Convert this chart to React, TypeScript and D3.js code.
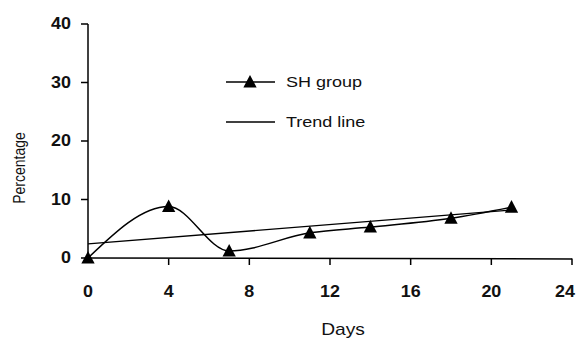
import React from "react";
import * as d3 from "d3";

const days = [0, 4, 7, 11, 14, 18, 21];
const shGroup = [0, 8.8, 1.2, 4.3, 5.3, 6.8, 8.7];
const trendDays = [0, 21];
const trendValues = [2.4, 8.2];
const xTicks = [0, 4, 8, 12, 16, 20, 24];
const yTicks = [0, 10, 20, 30, 40];

const W = 579, H = 339;
const x = d3.scaleLinear().domain([0, 24]).range([88, 572]);
const y = d3.scaleLinear().domain([0, 40]).range([258, 24]);

const tri = (cx: number, cy: number, s = 7) =>
  `M${cx},${cy - s}L${cx + s * 0.95},${cy + s * 0.8}L${cx - s * 0.95},${cy + s * 0.8}Z`;

const font = "Liberation Sans, Arial, sans-serif";

function T({ x: tx, y: ty, anchor = "start", size = 15, bold = false, rotate = 0, sx = 1.2, children }: any) {
  return (
    <text
      transform={`translate(${tx},${ty}) rotate(${rotate}) scale(${rotate ? 1 : sx},${rotate ? sx : 1})`}
      textAnchor={anchor}
      dominantBaseline="central"
      fontFamily={font}
      fontSize={size}
      fontWeight={bold ? "bold" : "normal"}
      fill="#111"
    >
      {children}
    </text>
  );
}

export default function App() {
  const line = d3
    .line<number>()
    .x((_, i) => x(days[i]))
    .y((d) => y(d))
    .curve(d3.curveMonotoneX);
  return (
    <svg width={W} height={H} style={{ position: "absolute", left: 0, top: 0, background: "#fff" }}>
      {/* axes */}
      <line x1={x(0)} x2={x(24)} y1={y(0)} y2={y(0) + 1} stroke="#000" strokeWidth={1.5} />
      <line x1={x(0)} x2={x(0)} y1={y(40)} y2={y(0)} stroke="#000" strokeWidth={1.5} />
      {yTicks.map((t) => (
        <g key={"y" + t}>
          <line x1={x(0) - 7} x2={x(0)} y1={y(t)} y2={y(t)} stroke="#000" strokeWidth={1.5} />
          <T x={x(0) - 17} y={y(t)} anchor="end" size={16} sx={1.12} bold>
            {t}
          </T>
        </g>
      ))}
      {xTicks.map((t) => (
        <g key={"x" + t}>
          {t > 0 && <line x1={x(t)} x2={x(t)} y1={y(0) + 0.5} y2={y(0) + 7} stroke="#000" strokeWidth={1.5} />}
          <T x={Math.min(x(t), 565)} y={292} anchor="middle" size={16} sx={1.12} bold>
            {t}
          </T>
        </g>
      ))}
      <T x={343} y={330} anchor="middle" size={16}>
        Days
      </T>
      <T x={19} y={168} anchor="middle" size={14} rotate={-90}>
        Percentage
      </T>
      {/* trend */}
      <line x1={x(trendDays[0])} x2={x(trendDays[1])} y1={y(trendValues[0])} y2={y(trendValues[1])} stroke="#000" strokeWidth={1.3} />
      {/* series */}
      <path d={line(shGroup) || ""} fill="none" stroke="#000" strokeWidth={1.5} />
      {shGroup.map((v, i) => (
        <path key={i} d={tri(x(days[i]), y(v))} fill="#000" />
      ))}
      {/* legend */}
      <line x1={226} x2={275} y1={82} y2={82} stroke="#000" strokeWidth={1.5} />
      <path d={tri(250, 82)} fill="#000" />
      <T x={286} y={82} size={15}>
        SH group
      </T>
      <line x1={226} x2={275} y1={122} y2={122} stroke="#000" strokeWidth={1.3} />
      <T x={286} y={122} size={15}>
        Trend line
      </T>
    </svg>
  );
}
